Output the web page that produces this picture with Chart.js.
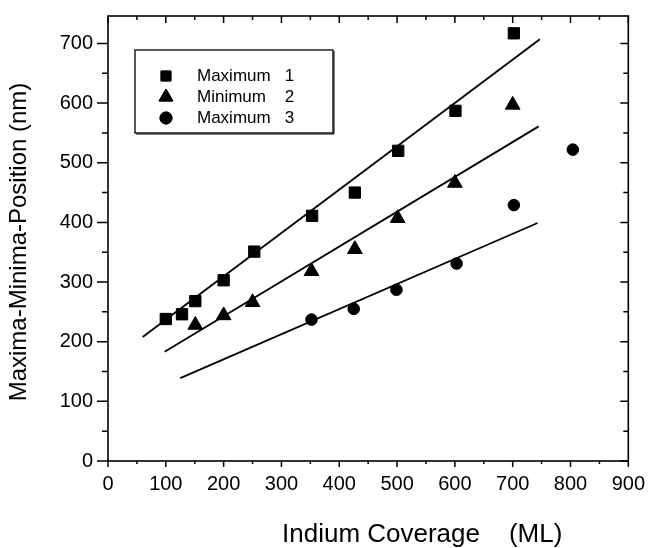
<!DOCTYPE html>
<html><head><meta charset="utf-8">
<script src="https://cdn.jsdelivr.net/npm/chart.js@4.4.1/dist/chart.umd.min.js"></script>
<style>html,body{margin:0;padding:0;background:#fff;}canvas{display:block;}</style>
</head><body>
<canvas id="c" width="650" height="548"></canvas>
<script>
// ---- data ----
const seriesLabels = ['Maximum   1', 'Minimum    2', 'Maximum   3'];
const max1X = [100, 128, 151, 200, 253, 353, 427, 502, 601, 702];
const max1Y = [238, 246, 268, 303, 351, 411, 450, 520, 587, 717];
const min2X = [151, 200, 250, 352, 427, 501, 600, 700];
const min2Y = [228, 244, 266, 318, 355, 407, 466, 597];
const max3X = [352, 425, 499, 603, 702, 804];
const max3Y = [237, 255, 287, 331, 429, 522];
const fit1X = [60, 747];  const fit1Y = [208, 707];
const fit2X = [98, 745];  const fit2Y = [183, 561];
const fit3X = [125, 743]; const fit3Y = [139, 399];
const xTitle = 'Indium Coverage    (ML)';
const yTitle = 'Maxima-Minima-Position (nm)';
const xMin = 0, xMax = 900, xStep = 100, xMinor = 50;
const yMin = 0, yMax = 746, yStep = 100, yMinor = 50;

const FONT = "'Liberation Sans', Arial, sans-serif";
const pts = (xs, ys) => xs.map((x, i) => ({x, y: ys[i]}));
const markerStyles = ['rect', 'triangle', 'circle'];

const framePlugin = {
  id: 'frame',
  afterDraw(chart) {
    const ctx = chart.ctx, a = chart.chartArea, xs = chart.scales.x, ys = chart.scales.y;
    ctx.save();
    ctx.strokeStyle = '#000';
    ctx.lineWidth = 1.6;
    ctx.strokeRect(a.left, a.top, a.right - a.left, a.bottom - a.top);
    ctx.lineWidth = 1.5;
    ctx.beginPath();
    for (let v = xMin; v <= xMax; v += xMinor) {
      const p = xs.getPixelForValue(v), major = v % xStep === 0;
      ctx.moveTo(p, a.bottom); ctx.lineTo(p, a.bottom + (major ? 6 : 3));
      ctx.moveTo(p, a.top); ctx.lineTo(p, a.top + (major ? 7 : 4));
    }
    for (let v = yMin; v <= yMax; v += yMinor) {
      const p = ys.getPixelForValue(v), major = v % yStep === 0;
      ctx.moveTo(a.left, p); ctx.lineTo(a.left - (major ? 11 : 6), p);
      ctx.moveTo(a.right, p); ctx.lineTo(a.right - (major ? 8 : 5), p);
    }
    ctx.stroke();

    // axis titles
    ctx.fillStyle = '#000';
    ctx.font = '26px ' + FONT;
    ctx.textAlign = 'left';
    ctx.textBaseline = 'alphabetic';
    ctx.fillText(xTitle, 282, 542);
    ctx.save();
    ctx.translate(19, 242);
    ctx.rotate(-Math.PI / 2);
    ctx.font = '24px ' + FONT;
    ctx.textAlign = 'center';
    ctx.textBaseline = 'middle';
    ctx.fillText(yTitle, 0, 0);
    ctx.restore();

    // legend box
    const L = 135, T = 50, R = 333, B = 133;
    ctx.lineWidth = 1.3;
    ctx.strokeRect(L, T, R - L, B - T);
    ctx.lineWidth = 1;
    ctx.beginPath();
    ctx.moveTo(L + 1, B + 1); ctx.lineTo(R + 1, B + 1); ctx.lineTo(R + 1, T + 1);
    ctx.stroke();
    const rows = [76, 97, 118];
    const radii = [7, 8, 6];
    ctx.font = '17px ' + FONT;
    ctx.textAlign = 'left';
    ctx.textBaseline = 'middle';
    chart.data.datasets.slice(0, 3).forEach((ds, i) => {
      Chart.helpers.drawPoint(ctx, {pointStyle: ds.pointStyle, radius: radii[i], borderWidth: 1, rotation: 0}, 166, rows[i]);
      ctx.fillStyle = '#000';
      ctx.strokeStyle = '#000';
      ctx.fill();
      ctx.stroke();
      ctx.fillText(ds.label, 197, rows[i]);
    });
    ctx.restore();
  }
};

const markerDs = (label, data, style, r) => ({
  label, data, pointStyle: style, pointRadius: r, pointHoverRadius: r,
  backgroundColor: '#000', borderColor: '#000', pointBorderWidth: 1, showLine: false
});
const fitDs = (data) => ({
  label: '', data, showLine: true, pointRadius: 0, borderColor: '#000',
  borderWidth: 1.8, fill: false
});

new Chart(document.getElementById('c'), {
  type: 'scatter',
  data: {
    datasets: [
      markerDs(seriesLabels[0], pts(max1X, max1Y), markerStyles[0], 8),
      markerDs(seriesLabels[1], pts(min2X, min2Y), markerStyles[1], 8.5),
      markerDs(seriesLabels[2], pts(max3X, max3Y), markerStyles[2], 5.8),
      fitDs(pts(fit1X, fit1Y)),
      fitDs(pts(fit2X, fit2Y)),
      fitDs(pts(fit3X, fit3Y))
    ]
  },
  options: {
    responsive: false,
    animation: false,
    layout: {padding: {left: 0, right: 19, top: 12, bottom: 0}},
    plugins: {legend: {display: false}, tooltip: {enabled: false}},
    scales: {
      x: {
        type: 'linear', min: xMin, max: xMax,
        ticks: {stepSize: xStep, color: '#000', font: {family: FONT, size: 20}, padding: 5, maxRotation: 0},
        grid: {drawOnChartArea: false, color: 'rgba(0,0,0,0)', tickLength: 6},
        border: {display: false},
        afterFit: s => { s.height = 87; }
      },
      y: {
        type: 'linear', min: yMin, max: yMax,
        ticks: {stepSize: yStep, includeBounds: false, color: '#000', font: {family: FONT, size: 20}, padding: 4},
        grid: {drawOnChartArea: false, color: 'rgba(0,0,0,0)', tickLength: 11},
        border: {display: false},
        afterFit: s => { s.width = 108; }
      }
    }
  },
  plugins: [framePlugin]
});
</script>
</body></html>
